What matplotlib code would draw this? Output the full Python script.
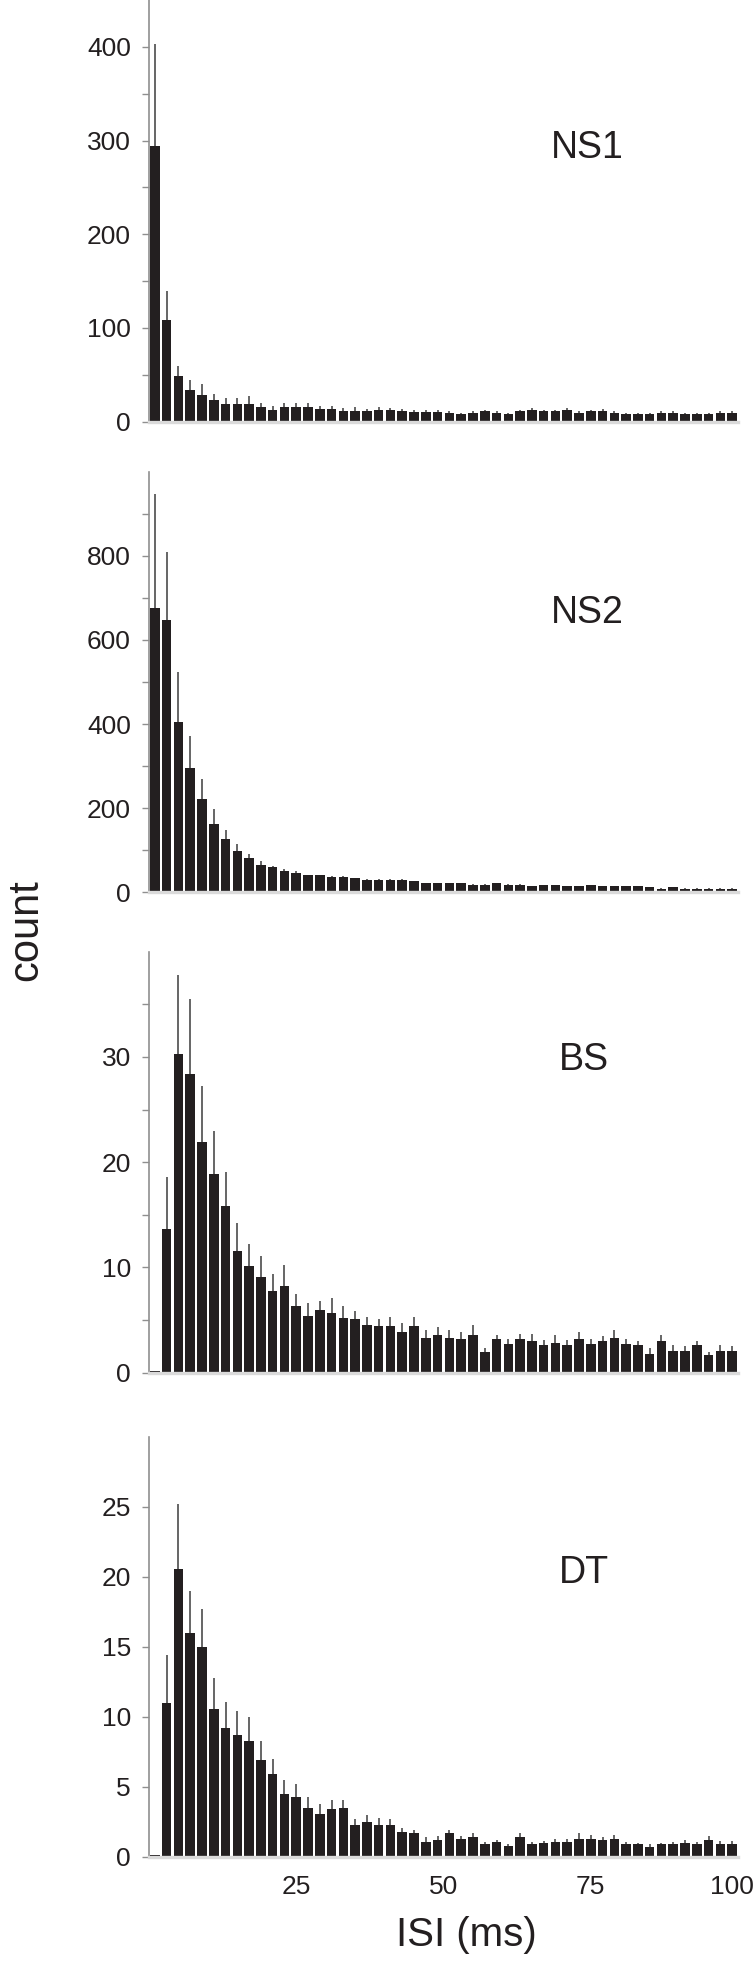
import matplotlib
matplotlib.use("Agg")
import matplotlib.pyplot as plt
import matplotlib.transforms as mtransforms
import numpy as np

plt.rcParams['font.family'] = ['Liberation Sans', 'DejaVu Sans']

# ISI bins (ms): 50 bins of 2 ms, 0-100 ms
bin_centers = np.arange(1, 100, 2)

ns1_mean = [294, 108, 48.7, 33.7, 28.4, 23, 18.5, 18.5, 18.5, 15.3,
            13, 15.3, 15.3, 15.3, 13.5, 13.5, 11.7, 11.7, 11.7, 13,
            12.4, 11.7, 10.3, 10.3, 10.3, 9.6, 7.8, 9.6, 11, 9.6,
            7.8, 11, 12.8, 11, 11, 12.8, 9.6, 11, 11, 9.6,
            7.8, 7.8, 7.8, 9.6, 9.6, 7.8, 7.8, 7.8, 9.6, 9.6]
ns1_err = [109, 32, 11, 11, 12, 7, 7, 7, 8.5, 5,
           4, 5, 5, 5, 3.5, 3, 2.5, 3.5, 2, 3,
           2, 2, 2, 2, 2, 2, 1.5, 2, 2, 2,
           1.5, 2, 2, 2, 2, 2, 2, 2, 2.5, 2,
           1.5, 1.5, 1.5, 2, 2, 1.5, 1.5, 1.5, 2, 2]

ns2_mean = [677, 647, 406, 296, 221, 162, 126, 99, 81, 66,
            59, 51, 47, 40, 40, 37, 37, 33, 29, 29,
            29, 29, 26, 21, 21, 21, 21, 18, 18, 21,
            18, 18, 14, 17, 17, 14, 14, 17, 14, 14,
            14, 14, 12, 9, 12, 9, 9, 9, 9, 9]
ns2_err = [269, 161, 117, 75, 49, 35, 23, 17, 11, 8,
           4, 4, 3, 2, 2, 2, 2, 2, 2, 2,
           2, 2, 2, 1, 1, 1, 1, 1, 1, 1,
           1, 1, 1, 1, 1, 1, 1, 1, 1, 1,
           1, 1, 1, 1, 1, 1, 1, 1, 1, 1]

bs_mean = [0.15, 13.7, 30.3, 28.4, 21.9, 18.9, 15.8, 11.6, 10.1, 9.1,
           7.8, 8.2, 6.3, 5.4, 6.0, 5.7, 5.2, 5.1, 4.5, 4.4,
           4.4, 3.9, 4.4, 3.3, 3.6, 3.3, 3.2, 3.6, 2.0, 3.2,
           2.7, 3.2, 3.0, 2.6, 2.8, 2.6, 3.2, 2.7, 3.0, 3.3,
           2.7, 2.6, 1.8, 3.0, 2.1, 2.1, 2.6, 1.7, 2.1, 2.1]
bs_err = [0, 4.9, 7.5, 7.1, 5.3, 4.1, 3.3, 2.6, 2.1, 2.0,
          1.6, 2.0, 1.2, 1.2, 0.8, 1.4, 1.1, 0.8, 0.8, 0.7,
          0.9, 0.8, 0.9, 0.8, 0.7, 0.8, 0.7, 0.9, 0.3, 0.4,
          0.5, 0.5, 0.7, 0.5, 0.8, 0.5, 0.7, 0.5, 0.5, 0.8,
          0.5, 0.4, 0.5, 0.6, 0.5, 0.4, 0.4, 0.3, 0.5, 0.4]

dt_mean = [0.15, 11.0, 20.6, 16.0, 15.0, 10.6, 9.2, 8.7, 8.3, 6.9,
           5.9, 4.5, 4.3, 3.5, 3.1, 3.4, 3.5, 2.3, 2.5, 2.3,
           2.3, 1.8, 1.7, 1.1, 1.2, 1.7, 1.3, 1.4, 0.9, 1.1,
           0.8, 1.4, 0.9, 1.0, 1.1, 1.1, 1.3, 1.3, 1.2, 1.3,
           0.9, 0.9, 0.7, 0.9, 0.9, 1.0, 0.9, 1.2, 0.9, 0.9]
dt_err = [0, 3.4, 4.6, 3.0, 2.7, 2.2, 1.9, 1.7, 1.7, 1.4,
          1.1, 1.0, 0.9, 0.8, 0.7, 0.7, 0.6, 0.4, 0.5, 0.5,
          0.4, 0.3, 0.25, 0.3, 0.3, 0.2, 0.2, 0.3, 0.2, 0.1,
          0.15, 0.3, 0.2, 0.15, 0.2, 0.2, 0.4, 0.3, 0.2, 0.3,
          0.2, 0.1, 0.2, 0.1, 0.2, 0.2, 0.2, 0.3, 0.25, 0.25]

panel_names = ["NS1", "NS2", "BS", "DT"]
means = [ns1_mean, ns2_mean, bs_mean, dt_mean]
errs = [ns1_err, ns2_err, bs_err, dt_err]
ylims = [450, 1000, 40, 30]
major_ticks = [[0, 100, 200, 300, 400], [0, 200, 400, 600, 800],
               [0, 10, 20, 30], [0, 5, 10, 15, 20, 25]]
minor_ticks = [[50, 150, 250, 350], [100, 300, 500, 700, 900],
               [5, 15, 25, 35], []]
x_ticks = [25, 50, 75, 100]

W, H = 753, 1962
fig = plt.figure(figsize=(W / 100, H / 100), dpi=100)

# axes boxes in pixel coords (left, top, right, bottom)
boxes = [(149, 0, 738, 421.7), (149, 471.7, 738, 892.3),
         (149, 951.7, 738, 1372.7), (149, 1437, 738, 1857)]

bar_color = '#231f20'
spine_grey = '#8f8f8f'

for i in range(4):
    l, t, r, b = boxes[i]
    ax = fig.add_axes([l / W, 1 - b / H, (r - l) / W, (b - t) / H])
    ax.bar(bin_centers, means[i], width=1.62, color=bar_color, zorder=2)
    ax.errorbar(bin_centers, means[i],
                yerr=[np.zeros(len(errs[i])), errs[i]],
                fmt='none', ecolor='#3c3c3c', elinewidth=1.1, capsize=0, zorder=3)
    ax.set_xlim(0, 100)
    ax.set_ylim(0, ylims[i])
    ax.set_yticks(major_ticks[i])
    ax.set_yticks(minor_ticks[i], minor=True)
    ax.tick_params(axis='y', which='both', direction='out', length=5, width=1,
                   color=spine_grey, labelsize=19, labelcolor=bar_color, pad=8)
    for s in ['top', 'right']:
        ax.spines[s].set_visible(False)
    ax.spines['left'].set_color(spine_grey)
    ax.spines['left'].set_linewidth(1.2)
    ax.spines['bottom'].set_color('#dadada')
    ax.spines['bottom'].set_linewidth(2.4)
    if i == 3:
        ax.set_xticks(x_ticks)
        ax.set_xticklabels([str(v) for v in x_ticks])
        ax.tick_params(axis='x', length=0, labelsize=19, labelcolor=bar_color, pad=13)
        last = ax.get_xticklabels()[-1]
        last.set_transform(last.get_transform() +
                           mtransforms.ScaledTranslation(-6 / 100, 0, fig.dpi_scale_trans))
    else:
        ax.set_xticks([])
    ax.patch.set_alpha(0)

label_pos = [(587, 148), (587, 613), (584, 1060), (584, 1573)]
for name, (px, py) in zip(panel_names, label_pos):
    fig.text(px / W, 1 - py / H, name, ha='center', va='center',
             fontsize=27, color=bar_color)

fig.text(466 / W, 1 - 1935 / H, "ISI (ms)", ha='center', va='center',
         fontsize=29, color=bar_color)
fig.text(26 / W, 1 - 930 / H, "count", ha='center', va='center',
         rotation=90, fontsize=30, color=bar_color)

fig.savefig("out.png", dpi=100)
